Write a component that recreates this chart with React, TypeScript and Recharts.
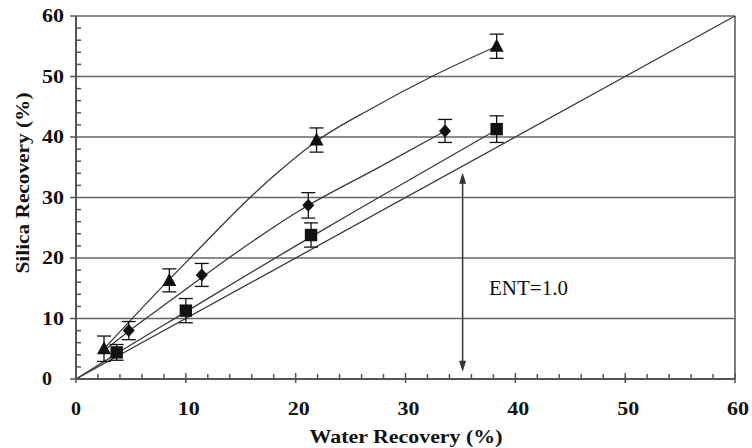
import React from "react";
import {
  ComposedChart,
  XAxis,
  YAxis,
  CartesianGrid,
  Scatter,
  Line,
  ErrorBar,
  ReferenceLine,
  ReferenceDot,
} from "recharts";

// tick positions (every 2 %, labels on multiples of 10)
const axisTicks = [
  0, 2, 4, 6, 8, 10, 12, 14, 16, 18, 20, 22, 24, 26, 28, 30, 32, 34, 36, 38, 40, 42, 44, 46, 48, 50,
  52, 54, 56, 58, 60,
];
const gridY = [10, 20, 30, 40, 50, 60];

// measured points with error bars
const triangles = [
  { x: 2.55, y: 5.0, err: 2.1 },
  { x: 8.5, y: 16.3, err: 1.9 },
  { x: 21.9, y: 39.5, err: 2.0 },
  { x: 38.3, y: 55.0, err: 2.0 },
];
const diamonds = [
  { x: 4.8, y: 8.0, err: 1.5 },
  { x: 11.45, y: 17.2, err: 1.9 },
  { x: 21.15, y: 28.7, err: 2.1 },
  { x: 33.6, y: 41.0, err: 1.9 },
];
const squares = [
  { x: 3.7, y: 4.4, err: 1.3 },
  { x: 10.0, y: 11.3, err: 2.0 },
  { x: 21.4, y: 23.8, err: 2.0 },
  { x: 38.3, y: 41.3, err: 2.2 },
];

// model curves
const triCurve = [
  { x: 2.5, y: 4.9 },
  { x: 8.3, y: 16.1 },
  { x: 10.4, y: 20 },
  { x: 15.85, y: 30 },
  { x: 18.6, y: 34.5 },
  { x: 21.9, y: 39.3 },
  { x: 27, y: 44.8 },
  { x: 32.4, y: 50 },
  { x: 38.3, y: 55 },
];
const diamondCurve = [
  { x: 2.5, y: 4.6 },
  { x: 4.8, y: 7.9 },
  { x: 9, y: 13.5 },
  { x: 13.9, y: 20 },
  { x: 20.4, y: 27.9 },
  { x: 27.7, y: 35.1 },
  { x: 33.6, y: 41 },
];
const squareCurve = [
  { x: 0, y: 0 },
  { x: 3.7, y: 4.2 },
  { x: 10, y: 11.1 },
  { x: 21.4, y: 23.5 },
  { x: 25.55, y: 27.9 },
  { x: 38.3, y: 41.2 },
];
const identity = [
  { x: 0, y: 0 },
  { x: 60, y: 60 },
];

const arrowX = 35.2;
const arrowTop = 34.1;
const arrowBottom = 1.2;

const SERIF = "'Liberation Serif', 'Times New Roman', serif";
const AXIS = "#555";
const INK = "#111";

function XTick({ x, y, payload }: any) {
  const v = payload.value as number;
  const major = v % 10 === 0;
  return (
    <g>
      <line x1={x} x2={x} y1={y - (major ? 6 : 5)} y2={major ? y + 4 : y} stroke={AXIS} strokeWidth={1.5} />
      {major && (
        <text
          x={v === 0 ? x : x + 3}
          y={y + 36}
          textAnchor="middle"
          fontFamily={SERIF}
          fontWeight="bold"
          fontSize={18}
          fill={INK}
          textLength={v === 0 ? 10 : 22}
          lengthAdjust="spacingAndGlyphs"
        >
          {v}
        </text>
      )}
    </g>
  );
}

function YTick({ x, y, payload }: any) {
  const v = payload.value as number;
  const major = v % 10 === 0;
  return (
    <g>
      {major ? (
        <line x1={x - 6} x2={x} y1={y} y2={y} stroke={AXIS} strokeWidth={1.5} />
      ) : (
        <line x1={x} x2={x + 5} y1={y} y2={y} stroke={AXIS} strokeWidth={1.5} />
      )}
      {major && (
        <text
          x={x - 34}
          y={y + 6}
          textAnchor="start"
          fontFamily={SERIF}
          fontWeight="bold"
          fontSize={18}
          fill={INK}
          textLength={v === 0 ? 10 : 22}
          lengthAdjust="spacingAndGlyphs"
        >
          {v}
        </text>
      )}
    </g>
  );
}

const Triangle = ({ cx, cy }: any) => (
  <polygon points={`${cx},${cy - 7.5} ${cx - 7},${cy + 5.5} ${cx + 7},${cy + 5.5}`} fill={INK} />
);
const Diamond = ({ cx, cy }: any) => (
  <polygon points={`${cx},${cy - 6.5} ${cx + 6},${cy} ${cx},${cy + 6.5} ${cx - 6},${cy}`} fill={INK} />
);
const Square = ({ cx, cy }: any) => <rect x={cx - 6.2} y={cy - 6.2} width={12.4} height={12.4} fill={INK} />;

const DoubleArrow = ({ x1, y1, x2, y2 }: any) => {
  const top = Math.min(y1, y2);
  const bot = Math.max(y1, y2);
  return (
    <g>
      <line x1={x1} x2={x2} y1={top + 8} y2={bot - 8} stroke="#333" strokeWidth={1.5} />
      <polygon points={`${x1},${top} ${x1 - 3.5},${top + 11} ${x1 + 3.5},${top + 11}`} fill="#333" />
      <polygon points={`${x1},${bot} ${x1 - 3.5},${bot - 11} ${x1 + 3.5},${bot - 11}`} fill="#333" />
    </g>
  );
};

export default function App() {
  return (
    <div style={{ position: "absolute", left: 0, top: 0, background: "#fff" }}>
      <ComposedChart width={752} height={448} margin={{ top: 16, right: 17, bottom: 68, left: 75 }}>
        <CartesianGrid vertical={false} horizontalValues={gridY} stroke="#666" strokeWidth={1.5} />
        <XAxis
          type="number"
          dataKey="x"
          domain={[0, 60]}
          ticks={axisTicks}
          interval={0}
          height={1}
          tickSize={0}
          tickMargin={0}
          tick={<XTick />}
          tickLine={false}
          axisLine={{ stroke: AXIS, strokeWidth: 2 }}
        />
        <YAxis
          type="number"
          dataKey="y"
          domain={[0, 60]}
          ticks={axisTicks}
          interval={0}
          width={1}
          tickSize={0}
          tickMargin={0}
          tick={<YTick />}
          tickLine={false}
          axisLine={{ stroke: AXIS, strokeWidth: 2 }}
        />
        <ReferenceLine x={60} stroke={AXIS} strokeWidth={1.5} />

        <Line data={identity} dataKey="y" type="linear" stroke="#3a3a3a" strokeWidth={1.3} dot={false} activeDot={false} isAnimationActive={false} />
        <Line data={squareCurve} dataKey="y" type="monotone" stroke="#3a3a3a" strokeWidth={1.3} dot={false} activeDot={false} isAnimationActive={false} />
        <Line data={diamondCurve} dataKey="y" type="monotone" stroke="#3a3a3a" strokeWidth={1.3} dot={false} activeDot={false} isAnimationActive={false} />
        <Line data={triCurve} dataKey="y" type="monotone" stroke="#3a3a3a" strokeWidth={1.3} dot={false} activeDot={false} isAnimationActive={false} />

        <Scatter data={triangles} dataKey="y" shape={(p: any) => <Triangle cx={p.cx} cy={p.cy} />} isAnimationActive={false}>
          <ErrorBar dataKey="err" direction="y" width={7} stroke={INK} strokeWidth={1.3} isAnimationActive={false} />
        </Scatter>
        <Scatter data={diamonds} dataKey="y" shape={(p: any) => <Diamond cx={p.cx} cy={p.cy} />} isAnimationActive={false}>
          <ErrorBar dataKey="err" direction="y" width={7} stroke={INK} strokeWidth={1.3} isAnimationActive={false} />
        </Scatter>
        <Scatter data={squares} dataKey="y" shape={(p: any) => <Square cx={p.cx} cy={p.cy} />} isAnimationActive={false}>
          <ErrorBar dataKey="err" direction="y" width={7} stroke={INK} strokeWidth={1.3} isAnimationActive={false} />
        </Scatter>

        <ReferenceLine
          segment={[
            { x: arrowX, y: arrowTop },
            { x: arrowX, y: arrowBottom },
          ]}
          shape={(p: any) => <DoubleArrow {...p} />}
        />
        <ReferenceDot
          x={41.2}
          y={15.1}
          r={1}
          fill="none"
          stroke="none"
          label={{ value: "ENT=1.0", position: "center", fontSize: 21, fill: INK, fontFamily: SERIF }}
        />

        <text
          x={406}
          y={443}
          textAnchor="middle"
          fontFamily={SERIF}
          fontWeight="bold"
          fontSize={19}
          fill={INK}
          textLength={193}
          lengthAdjust="spacingAndGlyphs"
        >
          Water Recovery (%)
        </text>
        <text
          x={29}
          y={183}
          transform="rotate(-90, 29, 183)"
          textAnchor="middle"
          fontFamily={SERIF}
          fontWeight="bold"
          fontSize={19}
          fill={INK}
          textLength={181}
          lengthAdjust="spacingAndGlyphs"
        >
          Silica Recovery (%)
        </text>
      </ComposedChart>
    </div>
  );
}
